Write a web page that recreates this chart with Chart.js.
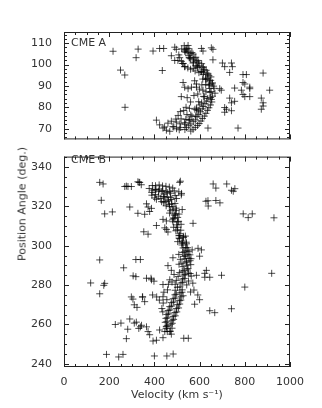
<!DOCTYPE html>
<html>
<head>
<meta charset="utf-8">
<script src="https://cdn.jsdelivr.net/npm/chart.js@4/dist/chart.umd.min.js"></script>
<style>
  body { margin: 0; background: #fff; }
  #wrap { position: relative; width: 322px; height: 408px; font-family: "DejaVu Sans", sans-serif; color: #333; }
  canvas { position: absolute; left: 0; }
  #cA { top: 0; }
  #cB { top: 146px; }
  .lbl { position: absolute; font-size: 11px; line-height: 11px; white-space: nowrap; }
  #ytitle { left: 22px; top: 204px; transform: translate(-50%, -50%) rotate(-90deg); }
</style>
</head>
<body>
<div id="wrap">
  <canvas id="cA" width="322" height="150"></canvas>
  <canvas id="cB" width="322" height="262"></canvas>
  <div class="lbl" style="left:71px;top:37px">CME A</div>
  <div class="lbl" style="left:71px;top:154px">CME B</div>
  <div class="lbl" id="ytitle">Position Angle (deg.)</div>
</div>
<script>
// panel labels / axis text
const xTitle = 'Velocity (km s\u207B\u00B9)';
const xTicks = [0, 200, 400, 600, 800, 1000];
const yTicksA = [70, 80, 90, 100, 110];
const yTicksB = [240, 260, 280, 300, 320, 340];

// CME A: velocity (km/s) and position angle (deg)
const velA = [
  532,544,549,536,553,548,541,561,566,552,571,576,560,583,588,574,596,593,584,609,
  614,598,621,617,606,629,634,617,641,636,626,650,644,633,657,649,641,662,655,645,
  521,534,539,554,555,573,571,589,591,608,597,616,614,628,627,643,
  508,512,520,528,535,548,560,572,580,
  664,651,668,646,657,649,652,636,654,631,648,624,641,617,635,612,628,604,621,597,
  613,589,606,581,598,572,591,561,581,552,571,542,561,535,
  617,609,601,594,587,583,566,556,553,536,533,516,628,622,596,586,579,561,544,539,
  518,513,497,486,
  409,423,438,453,468,482,445,460,475,495,505,515,498,510,
  527,534,549,564,578,586,586,519,545,560,575,592,600,610,615,540,555,530,
  394,423,441,435,490,497,475,490,504,524,534,608,615,652,637,
  217,250,269,270,319,328,
  659,659,701,711,741,745,733,792,807,792,800,822,822,881,910,755,689,696,785,792,
  800,822,733,741,755,711,719,711,741,873,881,881,873,770
];
const paA = [
  108.8,107.6,108.9,106.9,107.4,105.9,106.8,105.2,105.6,104.1,104.9,103.1,102.7,103.4,101.5,102.2,100.8,101.9,99.6,100.4,
  98.5,99.4,97.6,98.9,96.6,97.3,95.4,96.4,94.8,95.9,93.6,94.2,92.3,93.3,91.4,92.6,90.3,89.9,90.9,88.8,
  107.3,106.2,105.7,103.2,103.1,101.1,100.7,99.1,98.6,96.7,96.2,95.4,93.2,93,90.6,90.8,
  104.5,103.2,101.5,100.5,99,98.4,97.8,98.2,97,
  88.9,87.4,86.6,86.9,85.2,84.6,83.7,84.1,82.5,82.9,81.1,81.7,79.8,80.4,78.6,79.3,77.2,77.9,75.9,76.7,
  74.8,75.6,73.6,74.1,72.4,73.3,71.5,72.2,70.6,71.4,69.7,70.5,68.9,69.6,
  85.1,82.1,81.1,78.6,78.8,75.9,75.8,73.9,74.3,72.1,72.8,70.6,87.3,84.9,82.6,79.6,79.1,76.4,76.6,74.4,
  74.6,72.3,73.1,70.8,
  74,71.8,70.3,69.3,68.8,71,70.8,72.6,73.5,74.5,76.2,78,70,69.5,
  91.6,89.4,88.7,89.4,92.4,90.9,89.4,85,84.5,82.5,85.5,86.2,88.5,90.5,88,80,79.5,78.5,
  106.3,107.5,107.5,97.2,108.1,107.1,104.1,101.9,101.9,100.5,99,107.5,106.3,107.8,70.3,
  106.2,97.4,95.1,80,103.2,107.2,
  107.1,102.2,100.7,99,100.7,99,96.3,95.3,95.3,91.6,90.9,89.4,88.7,96,88,89,88.7,88,88,86,
  85,85,84.3,82.1,82.8,79.9,79.1,77.7,78.4,84.3,82.1,80.6,79.1,70.3
];

// CME B
const velB = [
  377,391,393,405,407,421,423,436,437,451,452,466,468,481,388,389,403,405,418,419,
  433,441,442,456,457,471,472,488,492,508,401,409,428,432,446,447,461,462,476,477,
  491,452,466,467,482,482,496,497,441,494,
  342,335,365,372,387,379,327,357,291,269,283,298,327,276,158,173,165,180,214,332,
  512,515,519,520,498,
  472,488,492,483,487,503,502,482,498,507,503,485,518,502,481,467,523,509,
  495,513,517,508,512,528,509,525,529,521,525,541,522,538,542,511,537,503,
  527,543,547,525,532,548,552,531,537,553,557,515,535,542,558,562,522,541,545,561,
  509,508,567,
  527,545,549,523,532,551,512,531,537,558,505,525,532,551,497,518,525,543,492,513,
  563,487,
  502,523,492,513,522,491,497,518,527,483,492,511,517,475,485,503,512,468,477,498,
  507,461,469,491,499,455,463,483,492,451,457,478,485,448,455,473,479,453,459,478,
  452,471,457,475,437,433,422,438,442,458,462,478,439,455,
  423,446,468,453,379,394,409,438,365,372,343,530,550,400,455,483,
  118,176,180,158,298,305,347,311,323,291,311,320,338,331,282,227,252,276,188,242,261,
  348,357,392,410,385,398,365,387,306,318,264,318,338,158,
  409,446,353,372,438,453,453,460,482,460,475,438,468,
  571,593,608,600,623,630,592,600,578,586,623,645,697,645,667,741,800,919,570,575,560,
  660,672,720,741,756,749,628,638,672,690,793,815,833,929,637
];
const paB = [
  329.1,330.6,328.3,330.5,328.6,330.9,328.8,330.4,328.1,330.2,327.7,329.8,327.5,329.3,327.1,325.7,328.3,326,327.7,325.2,
  327.5,325,326.3,324.8,327,324.6,326.7,327.9,325.5,327.4,324.3,323.6,324,322.4,324.7,322.5,322.7,323.2,321.3,323.5,
  321.5,320.3,319.9,321,318.5,319.8,319.1,318,321.9,316.3,
  331,332.2,321.3,319.7,319,317.4,316.5,316,319.7,330.1,330.1,330.1,332.5,330.3,332.2,331.4,323.1,316.2,317.2,332.2,
  332.2,332.8,325.8,326.6,324,
  317.8,315.6,315.6,314.1,313.9,314.4,312.1,312.2,310.6,312.4,309.4,309.4,310.9,308.1,313.2,316.6,318.4,316.1,
  307.6,306.1,307.9,305.1,305.2,304.8,303.9,302.4,304.2,301.4,301.4,301.8,300.4,299.1,301,303.6,304.9,302.1,
  298.9,297.4,299,296.6,296.9,295.6,297.2,294.6,294.9,293.6,295.4,293.1,293.4,292.1,292.4,293.4,291.1,291.4,290.1,290.4,
  290.6,295.6,297.9,
  289.4,288.1,288.4,287.1,287.4,286.1,286.4,285.1,285.4,285.9,284.4,283.1,283.4,282.1,282.4,281.1,281.4,280.1,280.4,279.1,
  284.6,285.4,
  278.9,277.6,277.4,276.1,276.4,275.1,275.4,274.1,274.6,273.1,273.4,272.1,272.4,271.1,271.4,270.1,270.4,269.1,269.4,268.1,
  268.4,267.1,267.4,266.1,266.4,265.1,265.4,264.1,264.4,263.1,263.4,262.1,262.6,261.1,261.4,260.1,260.6,259.1,259.4,258.1,
  257.9,256.6,256.4,255.1,266.4,268.1,272.4,274.1,276.4,277.6,280.4,281.6,270.9,272.6,
  257.2,256.4,256.4,258.8,254.8,251.6,252,253.3,258.8,256.4,259.6,253,253,244,244,245,
  281.1,279.9,280.9,275.6,274,272.9,274,270,268.7,262.8,260.7,261.2,258.8,258,257.6,260,260.7,252.8,244.8,243.5,244.8,
  274,271.6,275,274,283.5,282,283.5,282.7,284.7,284.3,288.8,293,293,292.8,
  310.3,309.1,307.1,305.9,313.4,312.6,308.3,307,293.9,289.9,287.5,280.3,282.7,
  311.4,298.7,297.9,294.7,286,287.5,275,272.6,270.3,285,284,284,285,267,266,268,279,286,281,277.5,276.5,
  331.4,329.3,331.4,328.2,329,327.7,322.6,320.2,323,321.8,316.2,314.3,316.2,314.2,322.9
];

const toPts = (vs, ps) => vs.map((v, i) => ({ x: v, y: ps[i] }));

// inward major/minor ticks on all four sides plus the box
const frameTicks = {
  id: 'frameTicks',
  afterDatasetsDraw(chart, args, o) {
    const { ctx, chartArea: a, scales: { x, y } } = chart;
    ctx.save();
    ctx.strokeStyle = '#222';
    ctx.lineWidth = 1;
    ctx.strokeRect(a.left + 0.5, a.top + 0.5, a.right - a.left - 1, a.bottom - a.top - 1);
    ctx.beginPath();
    for (let v = 0; v <= 1000; v += o.xMinor) {
      const px = Math.round(x.getPixelForValue(v)) + 0.5;
      const len = v % o.xMajor === 0 ? 5 : 3;
      ctx.moveTo(px, a.top); ctx.lineTo(px, a.top + len);
      ctx.moveTo(px, a.bottom); ctx.lineTo(px, a.bottom - len);
    }
    for (let v = Math.ceil(y.min / o.yMinor) * o.yMinor; v <= y.max; v += o.yMinor) {
      const py = Math.round(y.getPixelForValue(v)) + 0.5;
      const len = v % o.yMajor === 0 ? 5 : 3;
      ctx.moveTo(a.left, py); ctx.lineTo(a.left + len, py);
      ctx.moveTo(a.right, py); ctx.lineTo(a.right - len, py);
    }
    ctx.stroke();
    ctx.restore();
  }
};

function makePanel(id, pts, yMin, yMax, yTicks, tickOpts, bottom) {
  const tickFont = { family: 'DejaVu Sans', size: 11 };
  new Chart(document.getElementById(id), {
    type: 'scatter',
    data: {
      datasets: [{
        data: pts,
        pointStyle: 'cross',
        radius: 3.5,
        borderColor: 'rgba(0,0,0,0.7)',
        borderWidth: 1
      }]
    },
    options: {
      responsive: false,
      animation: false,
      layout: { padding: bottom ? { top: 0, right: 32, bottom: 0, left: 0 } : { top: 32, right: 32, bottom: 4, left: 0 } },
      plugins: { legend: { display: false }, tooltip: { enabled: false }, frameTicks: tickOpts },
      scales: {
        x: {
          type: 'linear', min: 0, max: 1000, display: bottom,
          grid: { display: false },
          border: { display: false },
          afterBuildTicks: (s) => { s.ticks = xTicks.map((v) => ({ value: v })); },
          afterFit: (s) => { if (bottom) s.height = 41; },
          ticks: { color: '#333', font: tickFont, padding: 1, maxRotation: 0, callback: (v) => String(v) },
          title: { display: true, text: xTitle, color: '#333', font: tickFont, padding: { top: 2, bottom: 6 } }
        },
        y: {
          type: 'linear', min: yMin, max: yMax,
          grid: { display: false },
          border: { display: false },
          afterBuildTicks: (s) => { s.ticks = yTicks.map((v) => ({ value: v })); },
          afterFit: (s) => { s.width = 64; },
          ticks: { color: '#333', font: tickFont, padding: 4, callback: (v) => String(v) }
        }
      }
    },
    plugins: [frameTicks]
  });
}

makePanel('cA', toPts(velA, paA), 65, 115.2, yTicksA, { xMinor: 50, xMajor: 200, yMinor: 2, yMajor: 10 }, false);
makePanel('cB', toPts(velB, paB), 238.4, 345.3, yTicksB, { xMinor: 50, xMajor: 200, yMinor: 5, yMajor: 20 }, true);
</script>
</body>
</html>
